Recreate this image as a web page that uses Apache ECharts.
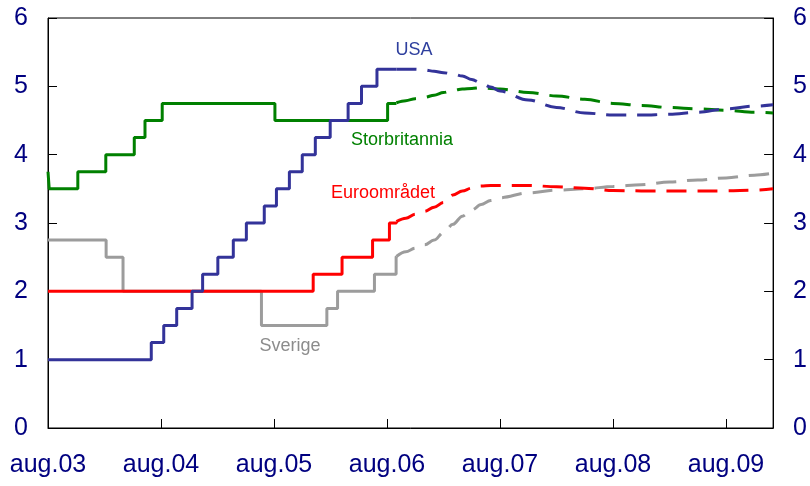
<!DOCTYPE html>
<html>
<head>
<meta charset="utf-8">
<script src="https://cdn.jsdelivr.net/npm/echarts@6/dist/echarts.min.js"></script>
<style>html,body{margin:0;padding:0;background:#fff}#c{width:810px;height:486px}</style>
</head>
<body>
<div id="c"></div>
<script>
// ---- data ----
const xTickLabels = ['aug.03','aug.04','aug.05','aug.06','aug.07','aug.08','aug.09'];
const yTickLabels = ['0','1','2','3','4','5','6'];

// history (policy rate, value holds from date until next change)
const usaHist = [['2003-08-01',1.00],['2004-06-30',1.25],['2004-08-10',1.50],['2004-09-21',1.75],['2004-11-10',2.00],['2004-12-14',2.25],['2005-02-02',2.50],['2005-03-22',2.75],['2005-05-03',3.00],['2005-06-30',3.25],['2005-08-09',3.50],['2005-09-20',3.75],['2005-11-01',4.00],['2005-12-13',4.25],['2006-01-31',4.50],['2006-03-28',4.75],['2006-05-10',5.00],['2006-06-29',5.25],['2006-09-01',5.25]];
const ukHist = [['2003-08-01',3.75],['2003-08-05',3.50],['2003-11-06',3.75],['2004-02-05',4.00],['2004-05-06',4.25],['2004-06-10',4.50],['2004-08-05',4.75],['2005-08-04',4.50],['2006-08-03',4.75],['2006-09-01',4.76]];
const euroHist = [['2003-08-01',2.00],['2005-12-06',2.25],['2006-03-08',2.50],['2006-06-15',2.75],['2006-08-09',3.00],['2006-09-01',3.02]];
const sweHist = [['2003-08-01',2.75],['2004-02-06',2.50],['2004-03-31',2.00],['2005-06-21',1.50],['2006-01-20',1.75],['2006-02-22',2.00],['2006-06-21',2.25],['2006-08-31',2.50],['2006-09-01',2.51]];

// forecasts
const fcDates = ['2006-09-01','2006-10-01','2006-11-01','2006-12-01','2007-01-01','2007-02-01','2007-03-01','2007-04-01','2007-05-01','2007-06-01','2007-07-01','2007-08-01','2007-11-01','2008-02-01','2008-05-01','2008-08-01','2008-11-01','2009-02-01','2009-05-01','2009-08-01','2009-11-01','2010-01-01'];
const usaFc  = [5.25,5.25,5.25,5.24,5.22,5.20,5.18,5.15,5.10,5.05,4.99,4.93,4.80,4.69,4.61,4.58,4.58,4.59,4.62,4.67,4.71,4.73];
const ukFc   = [4.76,4.79,4.82,4.84,4.87,4.91,4.94,4.96,4.97,4.98,4.97,4.96,4.91,4.86,4.81,4.75,4.72,4.69,4.67,4.65,4.62,4.61];
const euroFc = [3.02,3.07,3.13,3.17,3.23,3.30,3.41,3.47,3.51,3.54,3.55,3.55,3.55,3.53,3.51,3.475,3.47,3.47,3.47,3.47,3.48,3.50];
const sweFc  = [2.51,2.58,2.63,2.68,2.75,2.86,2.98,3.10,3.19,3.27,3.33,3.37,3.44,3.48,3.50,3.535,3.56,3.60,3.63,3.66,3.70,3.73];

const startDate = '2003-08-01';
const endDate = '2010-01-01';

// ---- helpers ----
function monthIndex(s) {
  const p = s.split('-').map(Number);
  const dim = new Date(p[0], p[1], 0).getDate();
  return (p[0] - 2003) * 12 + (p[1] - 8) + (p[2] - 1) / dim;
}
const hist = arr => arr.map(d => [monthIndex(d[0]), d[1]]);
const fc = vals => vals.map((v, i) => [monthIndex(fcDates[i]), v]);

const C = {usa:'#333399', uk:'#008000', euro:'#ff0000', swe:'#9c9c9c', axis:'#000080'};
const FONT = '"Liberation Sans", Arial, Helvetica, sans-serif';

function stepSeries(data, color) {
  return {type:'line', data:hist(data), step:'end', showSymbol:false, symbol:'none',
    lineStyle:{color, width:3}, animation:false, z:3};
}
function fcSeries(vals, color) {
  return {type:'line', data:fc(vals), smooth:0.35, smoothMonotone:'x', showSymbol:false, symbol:'none',
    lineStyle:{color, width:3, type:[20,11], cap:'butt'}, animation:false, z:3};
}

const yAxisBase = {
  type:'value', min:0, max:6, interval:1,
  axisLine:{show:true, lineStyle:{color:'#000', width:1}},
  axisTick:{show:true, inside:true, length:9, lineStyle:{color:'#000'}},
  splitLine:{show:false},
  axisLabel:{color:C.axis, fontSize:25, fontFamily:FONT, margin:20, formatter: v => yTickLabels[v]}
};

const chart = echarts.init(document.getElementById('c'), null, {renderer:'canvas'});
chart.setOption({
  backgroundColor:'#fff',
  animation:false,
  grid:{left:48, right:36, top:18, bottom:58, show:true, borderColor:'#000', borderWidth:1, backgroundColor:'transparent'},
  xAxis:{
    type:'value', min:0, max:monthIndex(endDate) - monthIndex(startDate), interval:12,
    axisLine:{show:true, onZero:false, lineStyle:{color:'#000', width:1}},
    axisTick:{show:true, inside:true, length:9, lineStyle:{color:'#000'}},
    splitLine:{show:false},
    axisLabel:{color:C.axis, fontSize:25, fontFamily:FONT, margin:25, showMaxLabel:false,
      formatter: v => (v % 12 === 0 ? (xTickLabels[v / 12] || '') : '')}
  },
  yAxis:[Object.assign({position:'left'}, yAxisBase), Object.assign({position:'right'}, yAxisBase)],
  series:[
    stepSeries(sweHist, C.swe), fcSeries(sweFc, C.swe),
    stepSeries(euroHist, C.euro), fcSeries(euroFc, C.euro),
    stepSeries(ukHist, C.uk), fcSeries(ukFc, C.uk),
    stepSeries(usaHist, C.usa), fcSeries(usaFc, C.usa)
  ],
  graphic:[
    {type:'text', x:414, y:50, style:{text:'USA', fill:'#2e3f9e', font:'18px ' + FONT, align:'center', verticalAlign:'middle'}},
    {type:'text', x:402, y:140, style:{text:'Storbritannia', fill:C.uk, font:'18px ' + FONT, align:'center', verticalAlign:'middle'}},
    {type:'text', x:383, y:193, style:{text:'Euroområdet', fill:C.euro, font:'18px ' + FONT, align:'center', verticalAlign:'middle'}},
    {type:'text', x:290, y:346, style:{text:'Sverige', fill:'#8c8c8c', font:'18px ' + FONT, align:'center', verticalAlign:'middle'}}
  ]
});
</script>
</body>
</html>
